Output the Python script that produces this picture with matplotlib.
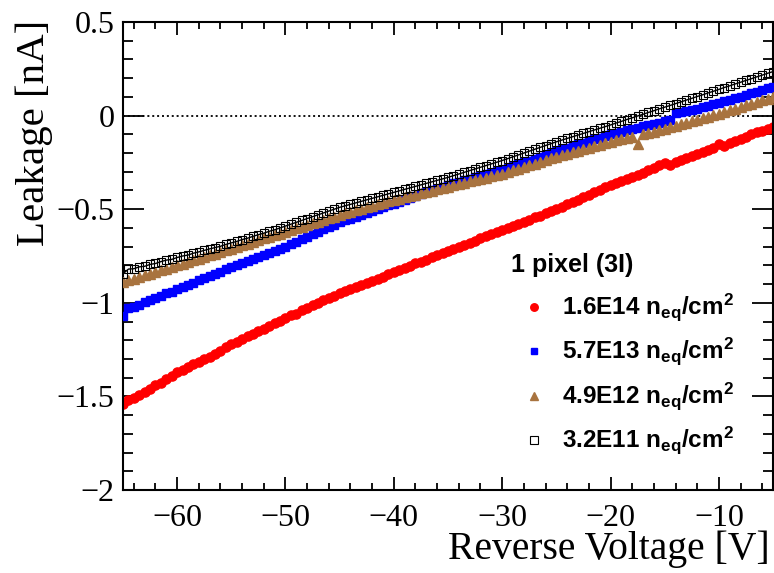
import numpy as np
import matplotlib
matplotlib.use("Agg")
import matplotlib.pyplot as plt
from matplotlib.ticker import MultipleLocator, FuncFormatter

plt.rcParams["mathtext.fontset"] = "custom"
plt.rcParams["mathtext.rm"] = "Liberation Sans:bold"
plt.rcParams["mathtext.it"] = "Liberation Sans:bold"
plt.rcParams["mathtext.bf"] = "Liberation Sans:bold"

# Reverse-bias sweep, 0.5 V steps
voltage = np.linspace(-65, -5, 121)

leak_16e14 = [
    -1.540, -1.520, -1.508, -1.492, -1.476, -1.459, -1.440, -1.426, -1.405, -1.390,
    -1.370, -1.357, -1.345, -1.328, -1.315, -1.300, -1.290, -1.272, -1.260, -1.236,
    -1.220, -1.208, -1.195, -1.180, -1.168, -1.152, -1.140, -1.125, -1.110, -1.096,
    -1.080, -1.066, -1.058, -1.040, -1.028, -1.012, -1.000, -0.985, -0.976, -0.962,
    -0.950, -0.938, -0.926, -0.916, -0.905, -0.895, -0.882, -0.872, -0.860, -0.846,
    -0.835, -0.826, -0.812, -0.803, -0.790, -0.780, -0.770, -0.756, -0.746, -0.734,
    -0.722, -0.712, -0.700, -0.690, -0.678, -0.668, -0.656, -0.645, -0.634, -0.622,
    -0.610, -0.600, -0.588, -0.578, -0.566, -0.556, -0.544, -0.534, -0.522, -0.512,
    -0.500, -0.488, -0.474, -0.462, -0.450, -0.436, -0.424, -0.410, -0.398, -0.384,
    -0.372, -0.360, -0.350, -0.338, -0.326, -0.316, -0.305, -0.290, -0.282, -0.264,
    -0.252, -0.266, -0.250, -0.238, -0.228, -0.218, -0.206, -0.196, -0.186, -0.172,
    -0.150, -0.160, -0.148, -0.136, -0.124, -0.112, -0.100, -0.090, -0.080, -0.070,
    -0.060,
]

leak_57e13 = [
    -1.070, -1.030, -1.020, -1.010, -0.998, -0.985, -0.972, -0.962, -0.950, -0.940,
    -0.928, -0.915, -0.904, -0.892, -0.880, -0.868, -0.858, -0.845, -0.834, -0.822,
    -0.810, -0.800, -0.788, -0.778, -0.766, -0.756, -0.744, -0.734, -0.722, -0.712,
    -0.700, -0.686, -0.674, -0.660, -0.648, -0.635, -0.622, -0.608, -0.596, -0.582,
    -0.570, -0.560, -0.550, -0.540, -0.530, -0.520, -0.510, -0.500, -0.490, -0.480,
    -0.470, -0.460, -0.450, -0.440, -0.430, -0.420, -0.410, -0.400, -0.390, -0.380,
    -0.370, -0.362, -0.354, -0.346, -0.338, -0.330, -0.322, -0.314, -0.306, -0.298,
    -0.290, -0.280, -0.270, -0.260, -0.250, -0.240, -0.230, -0.220, -0.210, -0.200,
    -0.190, -0.181, -0.172, -0.163, -0.154, -0.145, -0.136, -0.127, -0.118, -0.109,
    -0.100, -0.093, -0.086, -0.079, -0.072, -0.065, -0.058, -0.051, -0.044, -0.037,
    -0.030, -0.022, 0.012, 0.018, 0.024, 0.030, 0.036, 0.044, 0.052, 0.060,
    0.068, 0.076, 0.085, 0.094, 0.102, 0.111, 0.120, 0.128, 0.137, 0.146,
    0.155,
]

leak_49e12 = [
    -0.890, -0.880, -0.872, -0.862, -0.854, -0.845, -0.836, -0.826, -0.818, -0.808,
    -0.800, -0.792, -0.782, -0.774, -0.764, -0.756, -0.746, -0.738, -0.728, -0.720,
    -0.710, -0.702, -0.692, -0.684, -0.674, -0.666, -0.656, -0.648, -0.638, -0.630,
    -0.620, -0.612, -0.602, -0.594, -0.584, -0.576, -0.566, -0.558, -0.548, -0.540,
    -0.530, -0.522, -0.514, -0.506, -0.498, -0.490, -0.482, -0.474, -0.466, -0.458,
    -0.450, -0.443, -0.436, -0.429, -0.422, -0.415, -0.408, -0.401, -0.394, -0.387,
    -0.380, -0.373, -0.366, -0.359, -0.352, -0.345, -0.338, -0.331, -0.324, -0.317,
    -0.310, -0.301, -0.292, -0.283, -0.274, -0.265, -0.256, -0.247, -0.238, -0.229,
    -0.220, -0.212, -0.204, -0.196, -0.188, -0.180, -0.172, -0.164, -0.156, -0.148,
    -0.140, -0.133, -0.126, -0.119, -0.112, -0.150, -0.100, -0.093, -0.086, -0.078,
    -0.070, -0.062, -0.054, -0.046, -0.038, -0.030, -0.022, -0.014, -0.006, 0.002,
    0.010, 0.019, 0.028, 0.037, 0.046, 0.055, 0.064, 0.073, 0.082, 0.091,
    0.100,
]

leak_32e11 = [
    -0.845, -0.820, -0.818, -0.808, -0.805, -0.795, -0.790, -0.780, -0.772, -0.768,
    -0.758, -0.750, -0.745, -0.735, -0.728, -0.720, -0.712, -0.705, -0.698, -0.688,
    -0.680, -0.672, -0.662, -0.655, -0.645, -0.636, -0.628, -0.618, -0.610, -0.600,
    -0.590, -0.580, -0.570, -0.560, -0.550, -0.540, -0.530, -0.520, -0.510, -0.500,
    -0.490, -0.482, -0.474, -0.466, -0.458, -0.450, -0.442, -0.434, -0.426, -0.418,
    -0.410, -0.402, -0.394, -0.386, -0.378, -0.370, -0.362, -0.354, -0.346, -0.338,
    -0.330, -0.321, -0.312, -0.303, -0.294, -0.285, -0.276, -0.267, -0.258, -0.249,
    -0.240, -0.230, -0.220, -0.210, -0.200, -0.190, -0.180, -0.170, -0.160, -0.150,
    -0.140, -0.131, -0.122, -0.113, -0.104, -0.095, -0.086, -0.077, -0.068, -0.059,
    -0.050, -0.040, -0.031, -0.021, -0.012, -0.002, 0.007, 0.017, 0.026, 0.036,
    0.045, 0.054, 0.064, 0.073, 0.083, 0.092, 0.102, 0.111, 0.121, 0.130,
    0.140, 0.150, 0.159, 0.169, 0.178, 0.188, 0.197, 0.207, 0.216, 0.226,
    0.235,
]

legend_title = "1 pixel (3I)"
fluences = ["1.6E14", "5.7E13", "4.9E12", "3.2E11"]
colors = ["#ff0000", "#0000ff", "#a8733f", "#000000"]

W, H = 774, 573
fig = plt.figure(figsize=(W / 100, H / 100), dpi=100)
ax = fig.add_axes([123 / W, 1 - 490 / H, 650 / W, 468 / H])

ax.axhline(0, color="black", lw=1.3, ls=(0, (1.1, 1.6)), zorder=1)

ax.plot(voltage, leak_16e14, ls="none", marker="o", ms=6.6, color=colors[0], mec=colors[0], zorder=2)
ax.plot(voltage, leak_57e13, ls="none", marker="s", ms=6.0, color=colors[1], mec=colors[1], zorder=3)
ax.plot(voltage, leak_49e12, ls="none", marker="^", ms=6.6, color=colors[2], mec=colors[2], zorder=4)
ax.plot(voltage, leak_32e11, ls="-", lw=1.0, marker="s", ms=6.0, color=colors[3],
        mfc="none", mec="black", mew=0.8, zorder=5)

ax.set_xlim(-65, -5)
ax.set_ylim(-2, 0.5)

ax.xaxis.set_major_locator(MultipleLocator(10))
ax.xaxis.set_minor_locator(MultipleLocator(2))
ax.yaxis.set_major_locator(MultipleLocator(0.5))
ax.yaxis.set_minor_locator(MultipleLocator(0.1))


def fmt(v, pos):
    if abs(v) < 1e-9:
        return "0"
    s = f"{v:g}"
    return s.replace("-", "\u2212")


ax.xaxis.set_major_formatter(FuncFormatter(fmt))
ax.yaxis.set_major_formatter(FuncFormatter(fmt))

ax.tick_params(axis="both", which="both", direction="in", top=True, right=True,
               labelfontfamily="Liberation Serif", labelsize=23, width=1.3, color="black")
ax.tick_params(axis="x", which="major", length=9.5, pad=10)
ax.tick_params(axis="x", which="minor", length=5)
ax.tick_params(axis="y", which="major", length=15, pad=6)
ax.tick_params(axis="y", which="minor", length=7.5)

for sp in ax.spines.values():
    sp.set_linewidth(1.5)

fig.text(770 / W, 1 - 559 / H, "Reverse Voltage [V]", ha="right", va="baseline",
         fontfamily="Liberation Serif", fontsize=28.5)
fig.text(34 / W, 1 - 20 / H, "Leakage [nA]", ha="center", va="top", rotation=90,
         fontfamily="Liberation Serif", fontsize=29.5)


# legend block, positioned in axes fractions
def ax_xy(px, py):
    return ((px - 123) / 650, (490 - py) / 468)


hx, hy = ax_xy(511, 265)
ax.text(hx, hy, legend_title, transform=ax.transAxes, ha="left", va="center",
        fontfamily="Liberation Sans", fontweight="bold", fontsize=18)

row_y = [307, 351, 396, 440]
markers = [dict(marker="o", ms=5.4, color=colors[0]),
           dict(marker="s", ms=4.8, color=colors[1]),
           dict(marker="^", ms=5.2, color=colors[2]),
           dict(marker="s", ms=5.4, color="black", mfc="none", mew=0.8)]
for fl, py, mk in zip(fluences, row_y, markers):
    mx, my = ax_xy(534, py)
    ax.plot([mx], [my], transform=ax.transAxes, ls="none", clip_on=False, zorder=6, **mk)
    tx, ty = ax_xy(562, py)
    ax.text(tx, ty, fl + r" n$_{eq}$/cm$^{2}$", transform=ax.transAxes, ha="left",
            va="center", fontfamily="Liberation Sans", fontweight="bold", fontsize=17.5)

fig.savefig("out.png", dpi=100)
